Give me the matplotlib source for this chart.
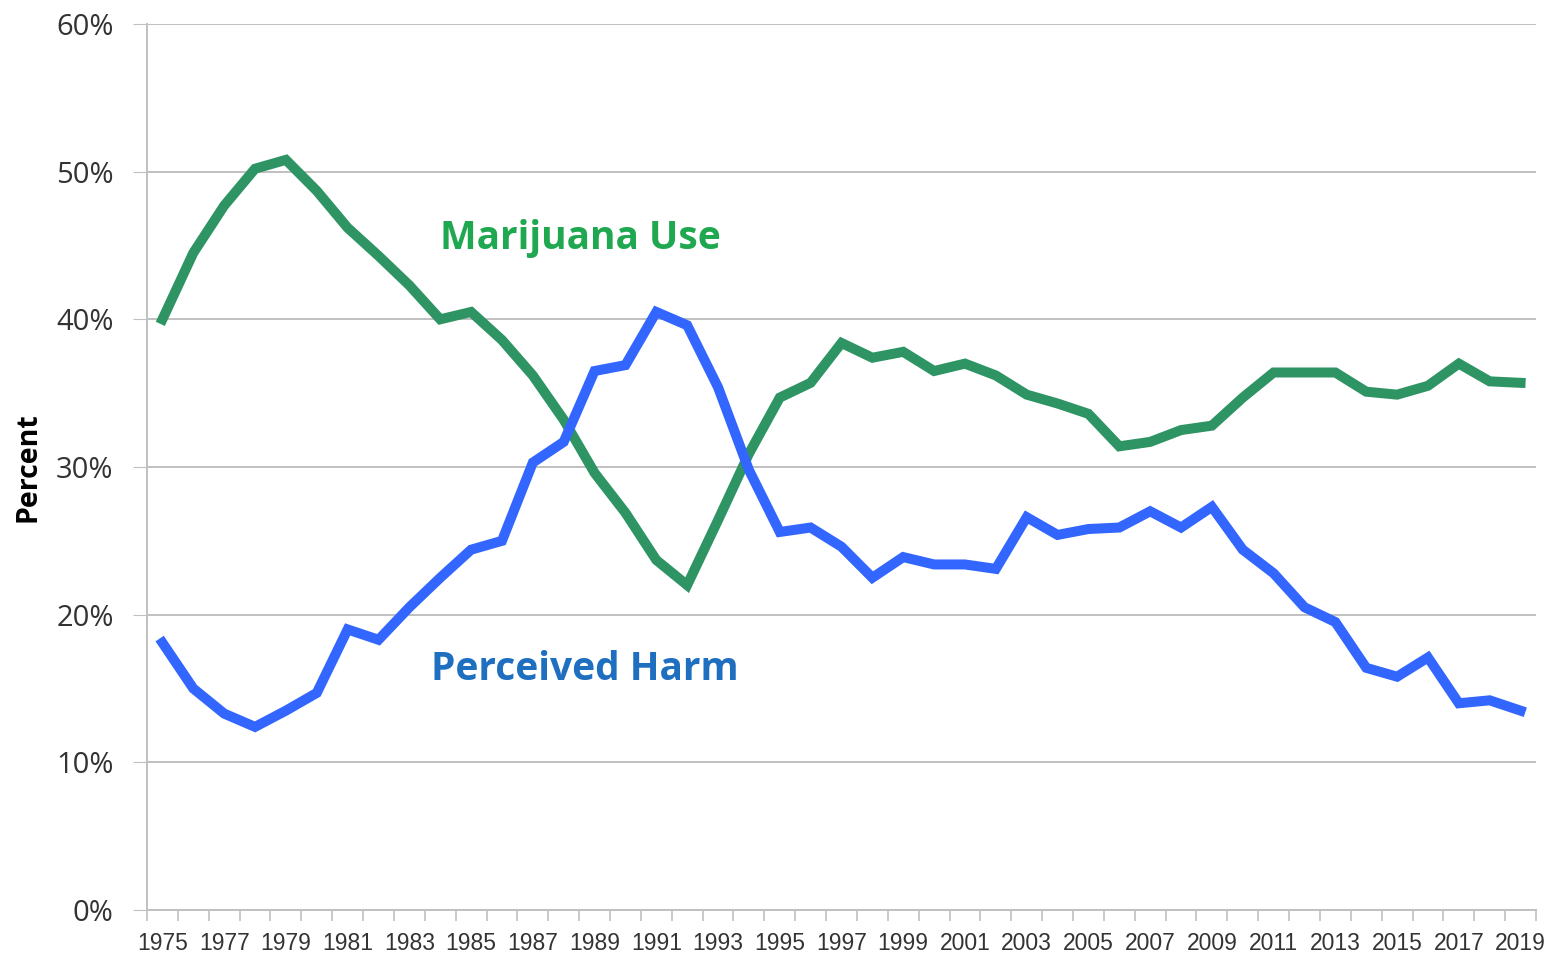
import numpy as np
import matplotlib.pyplot as plt
from matplotlib.ticker import FuncFormatter

# Data
years = list(range(1975, 2020))
use = [40.0, 44.5, 47.7, 50.2, 50.8, 48.7, 46.2, 44.3, 42.3, 40.0,
       40.5, 38.6, 36.2, 33.2, 29.6, 26.9, 23.7, 22.0, 26.4, 30.9,
       34.7, 35.7, 38.4, 37.4, 37.8, 36.5, 37.0, 36.2, 34.9, 34.3,
       33.6, 31.4, 31.7, 32.5, 32.8, 34.7, 36.4, 36.4, 36.4, 35.1,
       34.9, 35.5, 37.0, 35.8, 35.7]
harm = [18.1, 15.0, 13.3, 12.4, 13.5, 14.7, 19.0, 18.3, 20.5, 22.5,
        24.4, 25.0, 30.3, 31.7, 36.5, 36.9, 40.5, 39.6, 35.4, 29.8,
        25.6, 25.9, 24.6, 22.5, 23.9, 23.4, 23.4, 23.1, 26.6, 25.4,
        25.8, 25.9, 27.0, 25.9, 27.3, 24.4, 22.8, 20.5, 19.5, 16.4,
        15.8, 17.1, 14.0, 14.2, 13.5]
yticks = [0, 10, 20, 30, 40, 50, 60]

green = "#2e9463"
blue = "#3366ff"
grid = "#c0c0c0"

fig = plt.figure(figsize=(15.52, 9.58), dpi=100)
ax = fig.add_axes([147 / 1552, 1 - 910 / 958, 1389 / 1552, 886 / 958])

x = np.arange(len(years))
ax.plot(x, use, color=green, lw=7.2, solid_joinstyle="miter", zorder=3)
ax.plot(x, harm, color=blue, lw=7.2, solid_joinstyle="miter", zorder=3)

ax.set_xlim(-0.5, len(years) - 0.5)
ax.set_ylim(0, 60)

ax.set_yticks(yticks)
ax.yaxis.set_major_formatter(FuncFormatter(lambda v, p: f"{int(v)}%"))
ax.tick_params(axis="y", length=10, color=grid, labelsize=21, pad=14,
               labelcolor="#333333")
for lab in ax.get_yticklabels():
    lab.set_family(["Open Sans", "DejaVu Sans"])
ax.grid(axis="y", color=grid, lw=1.4, zorder=1)

# category boundaries as tick marks, labels every other year
ax.set_xticks(np.arange(-0.5, len(years), 1.0))
ax.set_xticklabels([])
ax.tick_params(axis="x", which="major", length=8, color=grid, width=1.2)
ax.set_xticks(x[::2], minor=True)
ax.set_xticklabels([str(y) for y in years[::2]], minor=True,
                   family=["Liberation Sans", "DejaVu Sans"],
                   fontsize=16.5, color="#333333")
ax.tick_params(axis="x", which="minor", length=0, pad=16)

for s in ["top", "right"]:
    ax.spines[s].set_visible(False)
ax.spines["left"].set_color(grid)
ax.spines["bottom"].set_color(grid)
ax.spines["left"].set_linewidth(1.4)
ax.spines["bottom"].set_linewidth(1.4)

fig.text(28 / 1552, 1 - 467 / 958, "Percent", rotation=90, fontsize=20.5,
         fontweight="bold", family=["Open Sans", "DejaVu Sans"],
         ha="center", va="center")

ax.text(9.0, 45.5, "Marijuana Use", color="#1fa84f", fontsize=28,
        fontweight="bold", family=["Open Sans", "DejaVu Sans"],
        ha="left", va="center")
ax.text(8.7, 16.3, "Perceived Harm", color="#1f6fc0", fontsize=28,
        fontweight="bold", family=["Open Sans", "DejaVu Sans"],
        ha="left", va="center")

fig.savefig("out.png", dpi=100)
